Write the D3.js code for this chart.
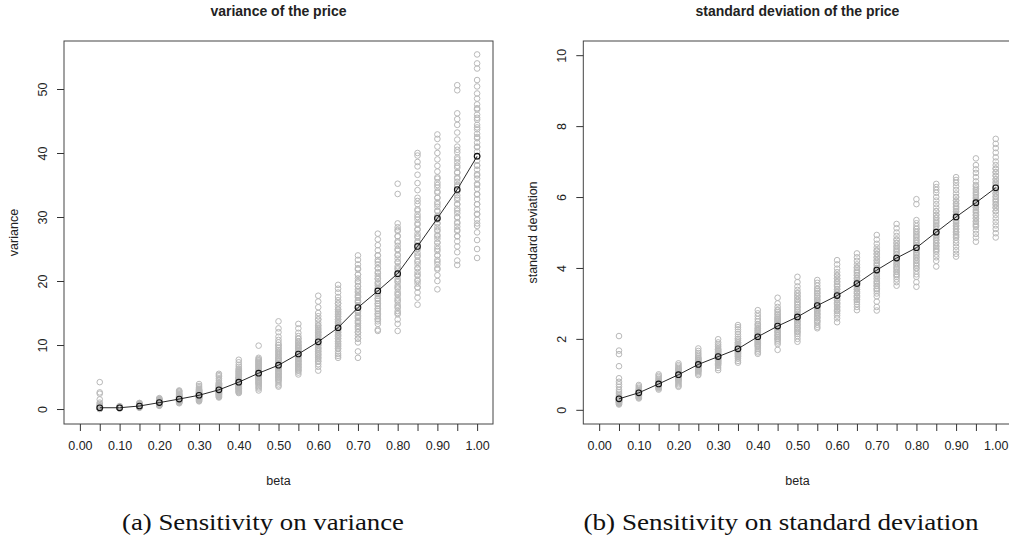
<!DOCTYPE html>
<html>
<head>
<meta charset="utf-8">
<script src="https://cdn.jsdelivr.net/npm/d3@7"></script>
<style>
  html, body { margin: 0; padding: 0; background: #fff; }
  svg { display: block; }
  .axis-text { font-family: "Liberation Sans", Arial, sans-serif; fill: #222; }
  .caption { font-family: "Liberation Serif", "Times New Roman", serif; fill: #111; }
</style>
</head>
<body>
<svg id="fig" width="1009" height="543"></svg>
<script>
// beta grid of the sensitivity study
const betas = [0.05, 0.10, 0.15, 0.20, 0.25, 0.30, 0.35, 0.40, 0.45, 0.50,
               0.55, 0.60, 0.65, 0.70, 0.75, 0.80, 0.85, 0.90, 0.95, 1.00];

// x tick positions and labels (labels only every 0.10)
const xTicks = [0.00, 0.05, 0.10, 0.15, 0.20, 0.25, 0.30, 0.35, 0.40, 0.45, 0.50,
                0.55, 0.60, 0.65, 0.70, 0.75, 0.80, 0.85, 0.90, 0.95, 1.00];
const xTickLabels = ["0.00", "0.10", "0.20", "0.30", "0.40", "0.50",
                     "0.60", "0.70", "0.80", "0.90", "1.00"];
const varTicks = [0, 10, 20, 30, 40, 50];
const sdTicks = [0, 2, 4, 6, 8, 10];

// mean of each simulated batch
const varMean = [0.2, 0.2, 0.47, 1.0, 1.56, 2.15, 3.0, 4.2, 5.6, 6.85,
                 8.6, 10.5, 12.7, 15.85, 18.45, 21.15, 25.4, 29.8, 34.3, 39.5];
const sdMean = [0.31, 0.48, 0.73, 0.99, 1.28, 1.50, 1.72, 2.06, 2.36, 2.62,
                2.94, 3.22, 3.56, 3.94, 4.28, 4.57, 5.01, 5.44, 5.84, 6.26];

// variance of the price, one run per value, grouped by beta
const varRuns = [
  [4.2, 2.6, 2.4, 1.5, 1.0, 0.8, 0.6, 0.5, 0.45, 0.4, 0.35, 0.3, 0.28, 0.25, 0.22, 0.2, 0.18, 0.15, 0.12, 0.1, 0.08, 0.06, 0.05, 0.04, 0.03, 0.02,
   0.1, 0.15, 0.2, 0.25, 0.3, 0.35, 0.12, 0.18],
  [0.45, 0.4, 0.35, 0.32, 0.3, 0.28, 0.26, 0.24, 0.22, 0.2, 0.19, 0.18, 0.17, 0.16, 0.15, 0.14, 0.13, 0.12, 0.1, 0.08,
   0.21, 0.23, 0.25, 0.27, 0.29, 0.31],
  [0.95, 0.9, 0.85, 0.8, 0.75, 0.7, 0.65, 0.6, 0.57, 0.54, 0.5, 0.48, 0.46, 0.44, 0.42, 0.4, 0.38, 0.35, 0.32, 0.3, 0.27, 0.24, 0.2,
   0.45, 0.5, 0.55, 0.6, 0.65, 0.4, 0.35],
  [1.7, 1.6, 1.5, 1.45, 1.4, 1.35, 1.3, 1.25, 1.2, 1.15, 1.1, 1.05, 1.0, 0.97, 0.94, 0.9, 0.87, 0.84, 0.8, 0.76, 0.72, 0.68, 0.64, 0.6, 0.55, 0.5,
   0.85, 0.9, 0.95, 1.0, 1.05, 1.1, 1.15, 1.2],
  [2.9, 2.8, 2.7, 2.55, 2.4, 2.3, 2.2, 2.1, 2.0, 1.9, 1.85, 1.8, 1.75, 1.7, 1.65, 1.6, 1.55, 1.5, 1.45, 1.4, 1.35, 1.3, 1.25, 1.2, 1.15, 1.1, 1.05, 1.0, 0.9,
   1.3, 1.4, 1.5, 1.6, 1.7, 1.8, 1.9, 2.0, 2.2],
  [3.9, 3.6, 3.4, 3.2, 3.0, 2.9, 2.8, 2.7, 2.6, 2.5, 2.45, 2.4, 2.35, 2.3, 2.25, 2.2, 2.15, 2.1, 2.05, 2.0, 1.95, 1.9, 1.85, 1.8, 1.7, 1.6, 1.5, 1.4, 1.3, 1.2,
   1.6, 1.8, 2.0, 2.2, 2.4, 2.6, 2.8, 3.0],
  [5.5, 5.3, 5.1, 4.8, 4.5, 4.2, 4.0, 3.8, 3.7, 3.6, 3.5, 3.4, 3.3, 3.2, 3.15, 3.1, 3.05, 3.0, 2.95, 2.9, 2.85, 2.8, 2.7, 2.6, 2.5, 2.4, 2.3, 2.2, 2.1, 2.0, 1.9, 1.8,
   2.2, 2.4, 2.6, 2.8, 3.0, 3.2, 3.4, 3.6, 3.8, 4.0],
  [7.7, 7.3, 6.9, 6.6, 6.3, 6.0, 5.8, 5.6, 5.4, 5.2, 5.0, 4.9, 4.8, 4.7, 4.6, 4.5, 4.4, 4.3, 4.2, 4.1, 4.0, 3.9, 3.8, 3.7, 3.6, 3.5, 3.4, 3.3, 3.2, 3.1, 3.0, 2.9, 2.8, 2.7, 2.6, 2.5,
   3.2, 3.5, 3.8, 4.1, 4.4, 4.7, 5.0, 5.3, 5.6, 5.9, 6.2],
  [9.9, 8.0, 7.8, 7.6, 7.4, 7.2, 7.0, 6.8, 6.6, 6.4, 6.2, 6.0, 5.9, 5.8, 5.7, 5.6, 5.5, 5.4, 5.3, 5.2, 5.1, 5.0, 4.9, 4.8, 4.6, 4.4, 4.2, 4.0, 3.8, 3.6, 3.4, 3.2, 2.9,
   4.0, 4.3, 4.6, 4.9, 5.2, 5.5, 5.8, 6.1, 6.4, 6.7, 7.0, 7.3, 7.6],
  [13.7, 12.6, 12.0, 11.3, 10.8, 10.4, 10.0, 9.6, 9.2, 8.9, 8.6, 8.3, 8.0, 7.8, 7.6, 7.4, 7.2, 7.0, 6.8, 6.6, 6.4, 6.2, 6.0, 5.8, 5.6, 5.4, 5.2, 5.0, 4.8, 4.6, 4.3, 4.0, 3.7, 3.5,
   4.5, 5.0, 5.5, 6.0, 6.5, 7.0, 7.5, 8.0, 8.5, 9.0, 9.5, 10.0],
  [13.3, 12.6, 11.9, 11.4, 11.0, 10.6, 10.3, 10.0, 9.8, 9.6, 9.4, 9.2, 9.0, 8.8, 8.6, 8.4, 8.2, 8.0, 7.8, 7.6, 7.4, 7.2, 7.0, 6.8, 6.6, 6.4, 6.2, 6.0, 5.7, 5.4,
   6.0, 6.5, 7.0, 7.5, 8.0, 8.5, 9.0, 9.5, 10.0, 10.5, 11.0],
  [17.7, 16.8, 15.9, 15.0, 14.5, 14.0, 13.5, 13.1, 12.7, 12.3, 12.0, 11.7, 11.4, 11.1, 10.8, 10.5, 10.2, 9.9, 9.6, 9.3, 9.0, 8.7, 8.4, 8.1, 7.8, 7.4, 7.0, 6.6, 6.0,
   7.5, 8.0, 8.5, 9.0, 9.5, 10.0, 10.5, 11.0, 11.5, 12.0, 12.5, 13.0, 14.0],
  [19.4, 18.8, 18.2, 17.5, 17.0, 16.5, 16.0, 15.6, 15.2, 14.8, 14.4, 14.0, 13.7, 13.4, 13.1, 12.8, 12.5, 12.2, 11.9, 11.6, 11.3, 11.0, 10.6, 10.2, 9.8, 9.4, 9.0, 8.6, 8.3, 8.0,
   9.5, 10.0, 10.5, 11.0, 11.5, 12.0, 12.5, 13.0, 13.5, 14.0, 14.5, 15.0, 15.5, 16.5],
  [24.0, 23.3, 22.6, 21.8, 21.0, 20.4, 19.8, 19.2, 18.7, 18.2, 17.8, 17.4, 17.0, 16.6, 16.2, 15.8, 15.4, 15.0, 14.6, 14.2, 13.8, 13.4, 13.0, 12.5, 12.0, 11.5, 11.0, 10.4, 9.0, 8.0,
   11.0, 12.0, 12.8, 13.6, 14.4, 15.2, 16.0, 16.8, 17.6, 18.4, 19.2, 20.0, 21.0, 22.0],
  [27.4, 26.5, 25.6, 24.8, 24.0, 23.3, 22.6, 22.0, 21.4, 20.8, 20.3, 19.8, 19.3, 18.9, 18.5, 18.1, 17.7, 17.3, 16.9, 16.5, 16.1, 15.7, 15.3, 14.9, 14.5, 14.1, 13.7, 13.3, 12.4, 12.2,
   14.0, 14.8, 15.6, 16.4, 17.2, 18.0, 18.8, 19.6, 20.4, 21.2, 22.0, 23.0, 24.0],
  [35.2, 33.6, 29.0, 28.4, 27.8, 27.0, 26.2, 25.5, 24.8, 24.1, 23.5, 22.9, 22.3, 21.8, 21.3, 20.8, 20.3, 19.8, 19.3, 18.8, 18.3, 17.8, 17.3, 16.8, 16.3, 15.8, 15.3, 14.8, 14.0, 13.3, 12.2,
   15.0, 16.0, 17.0, 18.0, 19.0, 20.0, 21.0, 22.0, 23.0, 24.0, 25.0, 26.0, 27.0, 28.0],
  [40.0, 39.6, 38.6, 37.9, 36.6, 35.3, 34.2, 33.0, 32.0, 31.2, 30.4, 29.6, 28.8, 28.1, 27.4, 26.8, 26.2, 25.6, 25.0, 24.4, 23.8, 23.2, 22.6, 22.0, 21.4, 20.8, 20.2, 19.6, 19.0, 18.2, 17.4, 16.3,
   19.0, 20.0, 21.0, 22.0, 23.0, 24.0, 25.0, 26.0, 27.0, 28.0, 29.0, 30.0, 31.0, 32.5],
  [42.9, 42.2, 41.0, 40.0, 39.0, 38.0, 37.1, 36.2, 35.4, 34.6, 33.8, 33.0, 32.3, 31.6, 30.9, 30.2, 29.6, 29.0, 28.4, 27.8, 27.2, 26.6, 26.0, 25.4, 24.7, 24.0, 23.3, 22.6, 21.8, 20.9, 20.0, 18.7,
   22.0, 23.0, 24.0, 25.0, 26.0, 27.0, 28.0, 29.0, 30.0, 31.0, 32.0, 33.0, 34.0, 35.0, 36.0],
  [50.6, 49.8, 46.2, 45.3, 44.4, 43.2, 42.1, 41.0, 40.1, 39.3, 38.5, 37.7, 36.9, 36.2, 35.5, 34.8, 34.1, 33.4, 32.7, 32.0, 31.3, 30.6, 29.9, 29.2, 28.5, 27.8, 27.0, 26.2, 25.4, 24.5, 23.2, 22.5,
   27.0, 28.0, 29.0, 30.0, 31.0, 32.0, 33.0, 34.0, 35.0, 36.0, 37.0, 38.0, 39.0, 40.5],
  [55.4, 54.0, 53.2, 51.4, 50.4, 49.3, 48.5, 47.6, 46.8, 46.0, 45.2, 44.4, 43.7, 43.0, 42.3, 41.6, 40.9, 40.2, 39.5, 38.8, 38.1, 37.4, 36.7, 36.0, 35.2, 34.4, 33.6, 32.8, 32.0, 31.2, 30.4, 29.6, 28.6, 27.6, 26.4, 25.0, 23.6,
   29.0, 30.5, 32.0, 33.5, 35.0, 36.5, 38.0, 39.5, 41.0, 42.5, 44.0, 45.5, 47.0]
];

// standard deviation of the price, one run per value, grouped by beta
const sdRuns = [
  [2.08, 1.67, 1.57, 1.23, 0.89, 0.79, 0.72, 0.65, 0.56, 0.5, 0.45, 0.4, 0.37, 0.34, 0.31, 0.29, 0.27, 0.25, 0.23, 0.21, 0.19, 0.17, 0.15,
   0.2, 0.22, 0.24, 0.26, 0.28, 0.3, 0.32, 0.35],
  [0.70, 0.66, 0.62, 0.59, 0.56, 0.54, 0.52, 0.5, 0.48, 0.46, 0.44, 0.42, 0.4, 0.38, 0.36, 0.34, 0.32,
   0.4, 0.43, 0.45, 0.47, 0.49, 0.51, 0.53, 0.55],
  [1.0, 0.96, 0.92, 0.88, 0.85, 0.82, 0.79, 0.76, 0.73, 0.7, 0.68, 0.66, 0.64, 0.62, 0.6, 0.57,
   0.65, 0.68, 0.7, 0.72, 0.74, 0.76, 0.78, 0.8],
  [1.31, 1.26, 1.22, 1.18, 1.14, 1.1, 1.07, 1.04, 1.01, 0.98, 0.95, 0.92, 0.89, 0.86, 0.83, 0.8, 0.76, 0.72, 0.68, 0.65,
   0.85, 0.9, 0.95, 1.0, 1.05, 1.1, 1.15],
  [1.73, 1.66, 1.6, 1.55, 1.5, 1.46, 1.42, 1.38, 1.34, 1.3, 1.27, 1.24, 1.21, 1.18, 1.15, 1.12, 1.09, 1.06, 1.02, 0.98,
   1.1, 1.15, 1.2, 1.25, 1.3, 1.35, 1.4, 1.45],
  [1.99, 1.9, 1.84, 1.79, 1.74, 1.7, 1.66, 1.62, 1.58, 1.54, 1.5, 1.47, 1.44, 1.41, 1.38, 1.35, 1.32, 1.28, 1.24, 1.18, 1.12,
   1.3, 1.35, 1.4, 1.45, 1.5, 1.55, 1.6, 1.65, 1.7],
  [2.39, 2.33, 2.27, 2.2, 2.13, 2.06, 2.0, 1.95, 1.9, 1.86, 1.82, 1.78, 1.74, 1.7, 1.66, 1.62, 1.58, 1.54, 1.49, 1.44, 1.38, 1.33,
   1.5, 1.55, 1.6, 1.65, 1.7, 1.75, 1.8, 1.85, 1.9, 2.0],
  [2.81, 2.72, 2.64, 2.56, 2.49, 2.42, 2.36, 2.3, 2.24, 2.18, 2.12, 2.07, 2.02, 1.97, 1.92, 1.87, 1.82, 1.77, 1.72, 1.67, 1.62, 1.58,
   1.8, 1.85, 1.9, 1.95, 2.0, 2.05, 2.1, 2.15, 2.2, 2.25, 2.3, 2.4],
  [3.16, 3.0, 2.9, 2.82, 2.75, 2.68, 2.62, 2.56, 2.5, 2.45, 2.4, 2.35, 2.3, 2.25, 2.2, 2.15, 2.1, 2.05, 2.0, 1.95, 1.9, 1.85, 1.69,
   2.0, 2.1, 2.2, 2.3, 2.35, 2.4, 2.45, 2.5, 2.55, 2.6, 2.7, 2.8],
  [3.75, 3.6, 3.48, 3.38, 3.28, 3.2, 3.12, 3.04, 2.96, 2.89, 2.82, 2.75, 2.68, 2.62, 2.56, 2.5, 2.44, 2.38, 2.32, 2.26, 2.2, 2.14, 2.08, 2.0, 1.92,
   2.2, 2.3, 2.4, 2.5, 2.6, 2.7, 2.8, 2.9, 3.0, 3.1, 3.2, 3.3],
  [3.66, 3.58, 3.5, 3.42, 3.35, 3.28, 3.22, 3.16, 3.1, 3.04, 2.98, 2.93, 2.88, 2.83, 2.78, 2.73, 2.68, 2.63, 2.58, 2.52, 2.46, 2.4, 2.34, 2.3,
   2.5, 2.6, 2.7, 2.8, 2.9, 3.0, 3.1, 3.2, 3.3, 3.4],
  [4.22, 4.1, 3.98, 3.88, 3.78, 3.7, 3.62, 3.54, 3.47, 3.4, 3.33, 3.26, 3.2, 3.14, 3.08, 3.02, 2.96, 2.9, 2.84, 2.78, 2.72, 2.66, 2.58, 2.47,
   2.8, 2.9, 3.0, 3.1, 3.2, 3.3, 3.4, 3.5, 3.6, 3.7, 3.8],
  [4.41, 4.3, 4.2, 4.1, 4.02, 3.94, 3.86, 3.79, 3.72, 3.65, 3.58, 3.52, 3.46, 3.4, 3.34, 3.28, 3.22, 3.16, 3.1, 3.04, 2.98, 2.9, 2.81,
   3.1, 3.2, 3.3, 3.4, 3.5, 3.6, 3.7, 3.8, 3.9, 4.0],
  [4.93, 4.8, 4.68, 4.58, 4.48, 4.39, 4.3, 4.22, 4.14, 4.06, 3.98, 3.91, 3.84, 3.77, 3.7, 3.63, 3.56, 3.49, 3.42, 3.35, 3.28, 3.2, 3.05, 2.9, 2.8,
   3.4, 3.5, 3.6, 3.7, 3.8, 3.9, 4.0, 4.1, 4.2, 4.3, 4.4, 4.5],
  [5.24, 5.12, 5.0, 4.9, 4.8, 4.71, 4.62, 4.54, 4.46, 4.38, 4.31, 4.24, 4.17, 4.1, 4.03, 3.96, 3.89, 3.82, 3.75, 3.68, 3.6, 3.5,
   3.8, 3.9, 4.0, 4.1, 4.2, 4.3, 4.4, 4.5, 4.6, 4.7, 4.8],
  [5.94, 5.8, 5.35, 5.26, 5.18, 5.1, 5.02, 4.94, 4.86, 4.78, 4.71, 4.64, 4.57, 4.5, 4.43, 4.36, 4.29, 4.22, 4.14, 4.06, 3.98, 3.9, 3.82, 3.75, 3.6, 3.47,
   4.0, 4.1, 4.2, 4.3, 4.4, 4.5, 4.6, 4.7, 4.8, 4.9, 5.0, 5.1],
  [6.37, 6.28, 6.2, 6.12, 6.0, 5.9, 5.8, 5.7, 5.6, 5.5, 5.42, 5.34, 5.26, 5.18, 5.1, 5.02, 4.94, 4.86, 4.78, 4.7, 4.62, 4.54, 4.46, 4.38, 4.3, 4.2, 4.04,
   4.5, 4.6, 4.7, 4.8, 4.9, 5.0, 5.1, 5.2, 5.3, 5.4, 5.5, 5.6],
  [6.56, 6.48, 6.4, 6.3, 6.2, 6.1, 6.0, 5.9, 5.82, 5.74, 5.66, 5.58, 5.5, 5.42, 5.34, 5.26, 5.18, 5.1, 5.02, 4.94, 4.86, 4.78, 4.7, 4.6, 4.5, 4.4, 4.32,
   4.9, 5.0, 5.1, 5.2, 5.3, 5.4, 5.5, 5.6, 5.7, 5.8, 5.9, 6.0],
  [7.09, 6.9, 6.78, 6.68, 6.56, 6.44, 6.34, 6.24, 6.14, 6.05, 5.96, 5.88, 5.8, 5.72, 5.64, 5.56, 5.48, 5.4, 5.32, 5.24, 5.16, 5.06, 4.96, 4.86, 4.74,
   5.2, 5.3, 5.4, 5.5, 5.6, 5.7, 5.8, 5.9, 6.0, 6.1, 6.2, 6.3],
  [7.64, 7.5, 7.38, 7.25, 7.12, 7.0, 6.9, 6.8, 6.7, 6.6, 6.5, 6.42, 6.34, 6.26, 6.18, 6.1, 6.02, 5.94, 5.86, 5.78, 5.7, 5.6, 5.5, 5.4, 5.3, 5.2, 5.1, 4.98, 4.86,
   5.6, 5.7, 5.8, 5.9, 6.0, 6.1, 6.2, 6.3, 6.4, 6.5, 6.6, 6.7, 6.8]
];

const svg = d3.select("#fig");

// one R-style scatter panel: boxed plot region, outward ticks, rotated y labels
function panel(cfg) {
  const { left, right, top, bottom } = cfg.box;
  const x = d3.scaleLinear().domain([-0.04, 1.04]).range([left, right]);
  const y = d3.scaleLinear().domain(cfg.yDomain).range([bottom, top]);
  const g = svg.append("g");

  // title
  g.append("text").attr("class", "axis-text")
    .attr("x", (left + right) / 2).attr("y", 16)
    .attr("text-anchor", "middle")
    .attr("font-size", 14).attr("font-weight", "bold").attr("fill", "#111")
    .text(cfg.title);

  // simulation runs (grey open circles)
  const pts = [];
  cfg.runs.forEach((col, i) => col.forEach(v => pts.push([betas[i], v])));
  g.append("g").selectAll("circle").data(pts).join("circle")
    .attr("cx", d => x(d[0])).attr("cy", d => y(d[1])).attr("r", 2.8)
    .attr("fill", "none").attr("stroke", "#b9b9b9").attr("stroke-width", 1);

  // mean line with black markers
  const meanPts = betas.map((b, i) => [b, cfg.mean[i]]);
  g.append("path").datum(meanPts)
    .attr("d", d3.line().x(d => x(d[0])).y(d => y(d[1])))
    .attr("fill", "none").attr("stroke", "#111").attr("stroke-width", 0.9);
  g.append("g").selectAll("circle").data(meanPts).join("circle")
    .attr("cx", d => x(d[0])).attr("cy", d => y(d[1])).attr("r", 2.8)
    .attr("fill", "none").attr("stroke", "#111").attr("stroke-width", 1.1);

  // plot box
  g.append("rect").attr("x", left).attr("y", top)
    .attr("width", right - left).attr("height", bottom - top)
    .attr("fill", "none").attr("stroke", "#444").attr("stroke-width", 1);

  // x axis
  const xAxis = g.append("g").attr("transform", `translate(0,${bottom})`)
    .call(d3.axisBottom(x).tickValues(xTicks).tickSize(7)
      .tickFormat(d => xTickLabels.includes(d.toFixed(2)) ? d.toFixed(2) : ""));
  xAxis.select(".domain").remove();
  xAxis.selectAll(".tick line").attr("stroke", "#333");
  xAxis.selectAll(".tick text").attr("class", "axis-text")
    .attr("font-size", 12.5).attr("y", 17).attr("dy", "0.71em");

  g.append("text").attr("class", "axis-text")
    .attr("x", (left + right) / 2).attr("y", 485)
    .attr("text-anchor", "middle").attr("font-size", 12.5)
    .text("beta");

  // y axis
  const yAxis = g.append("g").attr("transform", `translate(${left},0)`)
    .call(d3.axisLeft(y).tickValues(cfg.yTicks).tickSize(7).tickFormat(d3.format("d")));
  yAxis.select(".domain").remove();
  yAxis.selectAll(".tick line").attr("stroke", "#333");
  yAxis.selectAll(".tick text").attr("class", "axis-text")
    .attr("font-size", 12.5).attr("x", null).attr("dy", null)
    .attr("text-anchor", "middle")
    .attr("transform", "translate(-17,0) rotate(-90)");

  g.append("text").attr("class", "axis-text")
    .attr("transform", `translate(${left - 46},${(top + bottom) / 2}) rotate(-90)`)
    .attr("text-anchor", "middle").attr("font-size", 12.5)
    .text(cfg.yLabel);

  // sub-figure caption
  svg.append("text").attr("class", "caption")
    .attr("x", cfg.captionX).attr("y", 530)
    .attr("text-anchor", "middle").attr("font-size", 23)
    .attr("textLength", cfg.captionWidth).attr("lengthAdjust", "spacingAndGlyphs")
    .text(cfg.caption);
}

panel({
  box: { left: 64, right: 493, top: 41, bottom: 424 },
  yDomain: [-2.34, 57.5], yTicks: varTicks,
  runs: varRuns, mean: varMean,
  title: "variance of the price", yLabel: "variance",
  caption: "(a) Sensitivity on variance", captionX: 263, captionWidth: 282
});

panel({
  box: { left: 583.3, right: 1011.6, top: 41, bottom: 424 },
  yDomain: [-0.4, 10.4], yTicks: sdTicks,
  runs: sdRuns, mean: sdMean,
  title: "standard deviation of the price", yLabel: "standard deviation",
  caption: "(b) Sensitivity on standard deviation", captionX: 781, captionWidth: 395
});
</script>
</body>
</html>
